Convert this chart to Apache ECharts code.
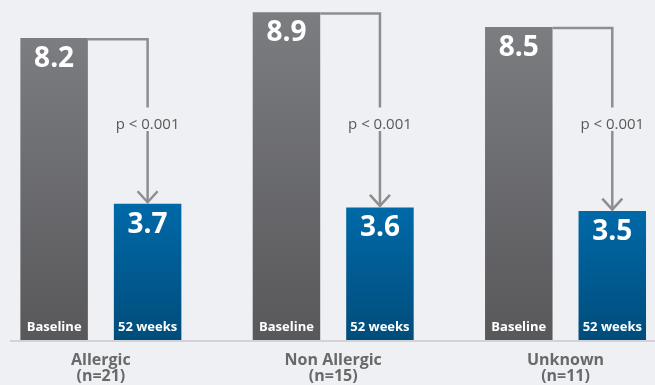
<!DOCTYPE html>
<html>
<head>
<meta charset="utf-8">
<script src="https://cdn.jsdelivr.net/npm/echarts@6/dist/echarts.min.js"></script>
<style>
  html, body { margin: 0; padding: 0; background: #eff0f3; }
  #chart { width: 655px; height: 385px; }
</style>
</head>
<body>
<div id="chart"></div>
<script>
// Patient groups and their scores at baseline and after 52 weeks
const groupNames = ['Allergic', 'Non Allergic', 'Unknown'];
const groupSizes = ['(n=21)', '(n=15)', '(n=11)'];
const baselineValues = [8.2, 8.9, 8.5];
const week52Values = [3.7, 3.6, 3.5];
const pValueTexts = ['p < 0.001', 'p < 0.001', 'p < 0.001'];
const barNames = ['Baseline', '52 weeks'];

// Layout / style settings
const FONT = '"Open Sans", "Noto Sans", sans-serif';
const BAR_W = 67.5;
const BAR_GAP = 26;
const HALF_STEP = (BAR_W + BAR_GAP) / 2;   // offset of each bar centre from the group centre
const P_LABEL_LEVEL = 5.85;                 // y level (in axis units) of the p-value text
const BRACKET_COLOR = '#8d8e90';

const chart = echarts.init(document.getElementById('chart'), null, { renderer: 'canvas' });

function barGradient(top, bottom) {
  return new echarts.graphic.LinearGradient(0, 0, 0, 1, [
    { offset: 0, color: top },
    { offset: 1, color: bottom }
  ]);
}

const valueLabel = {
  show: true,
  position: 'insideTop',
  distance: 7,
  color: '#ffffff',
  fontFamily: FONT,
  fontWeight: 'bold',
  fontSize: 28,
  formatter: p => p.value.toFixed(1)
};

// Brackets with arrow, p-value text and the bar name at the foot of each bar
function renderBracket(params, api) {
  const idx = api.value(0);
  const base = api.value(1);
  const wk = api.value(2);
  const c = api.coord([idx, 0]);
  const cx = c[0];
  const y0 = c[1];
  const topY = api.coord([idx, base])[1];
  const wkY = api.coord([idx, wk])[1];
  const pY = api.coord([idx, P_LABEL_LEVEL])[1];
  const leftEdge = cx - BAR_GAP / 2;
  const ax = cx + HALF_STEP;
  const lineStyle = { stroke: BRACKET_COLOR, lineWidth: 2.5, fill: null };
  return {
    type: 'group',
    children: [
      {
        type: 'polyline',
        shape: { points: [[leftEdge, topY + 1.2], [ax, topY + 1.2], [ax, pY - 17]] },
        style: lineStyle
      },
      {
        type: 'text',
        style: {
          text: pValueTexts[params.dataIndex],
          x: ax, y: pY,
          align: 'center', verticalAlign: 'middle',
          fill: '#595959', font: '15px ' + FONT
        }
      },
      {
        type: 'line',
        shape: { x1: ax, y1: pY + 6.5, x2: ax, y2: wkY - 1.5 },
        style: lineStyle
      },
      {
        type: 'polyline',
        shape: { points: [[ax - 10, wkY - 12.5], [ax, wkY - 1.5], [ax + 10, wkY - 12.5]] },
        style: lineStyle
      },
      {
        type: 'text',
        style: {
          text: barNames[0], x: cx - HALF_STEP, y: y0 - 12.5,
          align: 'center', verticalAlign: 'middle',
          fill: '#ffffff', font: 'bold 13px ' + FONT
        }
      },
      {
        type: 'text',
        style: {
          text: barNames[1], x: cx + HALF_STEP, y: y0 - 12.5,
          align: 'center', verticalAlign: 'middle',
          fill: '#ffffff', font: 'bold 13px ' + FONT
        }
      }
    ]
  };
}

const option = {
  backgroundColor: '#eff0f3',
  animation: false,
  grid: {
    left: -15.3, width: 697, top: 8.5, height: 331.5,
    containLabel: false,
    outerBoundsMode: 'none'
  },
  xAxis: {
    type: 'category',
    data: groupNames.map((n, i) => n + '\n' + groupSizes[i]),
    axisLine: { show: false },
    axisTick: { show: false },
    axisLabel: {
      interval: 0,
      margin: 12,
      color: '#69696b',
      fontFamily: FONT,
      fontWeight: 'bold',
      fontSize: 16,
      lineHeight: 16
    }
  },
  yAxis: {
    type: 'value',
    min: 0,
    max: 9,
    show: false,
    splitLine: { show: false }
  },
  graphic: [{
    type: 'line',
    shape: { x1: 10, y1: 341, x2: 655, y2: 341 },
    style: { stroke: '#d2d3d6', lineWidth: 2 },
    z: 0
  }],
  series: [
    {
      name: barNames[0],
      type: 'bar',
      data: baselineValues,
      barWidth: BAR_W,
      barGap: (BAR_GAP / BAR_W * 100).toFixed(1) + '%',
      itemStyle: { color: barGradient('#7c7d81', '#58585b') },
      label: valueLabel,
      z: 2
    },
    {
      name: barNames[1],
      type: 'bar',
      data: week52Values,
      barWidth: BAR_W,
      itemStyle: { color: barGradient('#0069a8', '#004d7b') },
      label: valueLabel,
      z: 2
    },
    {
      type: 'custom',
      renderItem: renderBracket,
      data: groupNames.map((n, i) => [i, baselineValues[i], week52Values[i]]),
      z: 3,
      silent: true
    }
  ]
};

chart.setOption(option);
</script>
</body>
</html>
